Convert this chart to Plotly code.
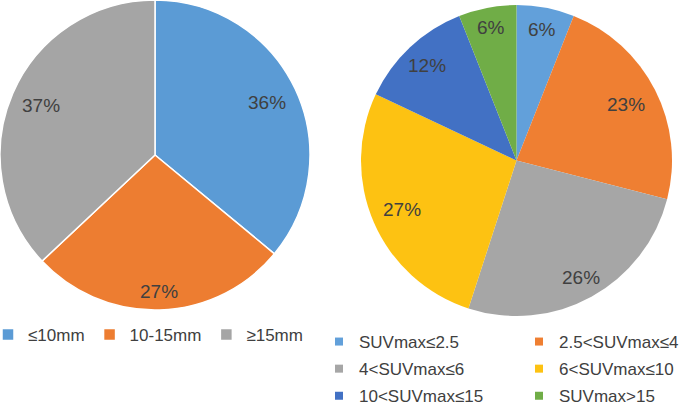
import math
import plotly.graph_objects as go

# ---- data ----
size_labels = ["≤10mm", "10-15mm", "≥15mm"]
size_values = [36, 27, 37]

suv_labels = ["SUVmax≤2.5", "2.5<SUVmax≤4", "4<SUVmax≤6",
              "6<SUVmax≤10", "10<SUVmax≤15", "SUVmax>15"]
suv_values = [6, 23, 26, 27, 12, 6]

# ---- style ----
W, H = 685, 407
size_colors = ["#5B9BD5", "#ED7D31", "#A5A5A5"]
suv_colors = ["#62A0DA", "#EF7F32", "#A6A6A6", "#FDC212", "#4271C4", "#70AD47"]
left_geom = dict(cx=155, cy=155, r=155)
right_geom = dict(cx=516.5, cy=160.5, r=155.5)
left_label_rad = [0.80, 0.88, 0.80]
right_label_rad = [0.86, 0.79, 0.86, 0.80, 0.84, 0.87]
label_font = dict(family="Liberation Sans, Arial, sans-serif", size=19, color="#404040")
legend_font = dict(family="Liberation Sans, Arial, sans-serif", size=17, color="#404040")


def domain(g):
    return dict(x=[max(0, (g["cx"] - g["r"]) / W), min(1, (g["cx"] + g["r"]) / W)],
                y=[max(0, (H - g["cy"] - g["r"]) / H), min(1, (H - g["cy"] + g["r"]) / H)])


def label_annotations(values, g, rads):
    total = sum(values)
    anns = []
    cum = 0
    for v, k in zip(values, rads):
        mid = (cum + v / 2) / total * 2 * math.pi
        cum += v
        x = g["cx"] + k * g["r"] * math.sin(mid)
        y = g["cy"] - k * g["r"] * math.cos(mid)
        anns.append(dict(x=x / W, y=1 - y / H, xref="paper", yref="paper",
                         text=f"{round(v / total * 100)}%", showarrow=False,
                         font=label_font, xanchor="center", yanchor="middle"))
    return anns


fig = go.Figure()
fig.add_trace(go.Pie(
    labels=size_labels, values=size_values, sort=False, direction="clockwise",
    rotation=0, marker=dict(colors=size_colors, line=dict(color="white", width=1.5)),
    textinfo="none", hoverinfo="label+percent", domain=domain(left_geom),
    legend="legend", showlegend=True))
fig.add_trace(go.Pie(
    labels=suv_labels, values=suv_values, sort=False, direction="clockwise",
    rotation=0, marker=dict(colors=suv_colors, line=dict(width=0)),
    textinfo="none", hoverinfo="label+percent", domain=domain(right_geom),
    showlegend=False))

# legend entries for right pie, two columns (row-major order as in the reference)
for i, (lab, col) in enumerate(zip(suv_labels, suv_colors)):
    fig.add_trace(go.Scatter(
        x=[None], y=[None], mode="markers", name=lab,
        marker=dict(symbol="square", size=8, color=col),
        legend="legend2" if i % 2 == 0 else "legend3",
        legendgroup=f"g{i}", showlegend=True, hoverinfo="skip"))

fig.update_layout(
    width=W, height=H, margin=dict(l=0, r=0, t=0, b=0, autoexpand=False),
    paper_bgcolor="white", plot_bgcolor="white",
    xaxis=dict(visible=False), yaxis=dict(visible=False),
    annotations=label_annotations(size_values, left_geom, left_label_rad)
    + label_annotations(suv_values, right_geom, right_label_rad),
    legend=dict(orientation="h", x=-12 / W, xanchor="left", y=1 - 335 / H,
                yanchor="middle", font=legend_font, bgcolor="rgba(0,0,0,0)"),
    legend2=dict(orientation="v", x=319 / W, xanchor="left", y=1 - 324 / H,
                 yanchor="top", font=legend_font, tracegroupgap=2,
                 bgcolor="rgba(0,0,0,0)"),
    legend3=dict(orientation="v", x=519 / W, xanchor="left", y=1 - 324 / H,
                 yanchor="top", font=legend_font, tracegroupgap=2,
                 bgcolor="rgba(0,0,0,0)"),
)

fig.write_html("out.html", config={"displayModeBar": False},
               post_script="document.body.style.margin='0';document.body.style.overflow='hidden';")
